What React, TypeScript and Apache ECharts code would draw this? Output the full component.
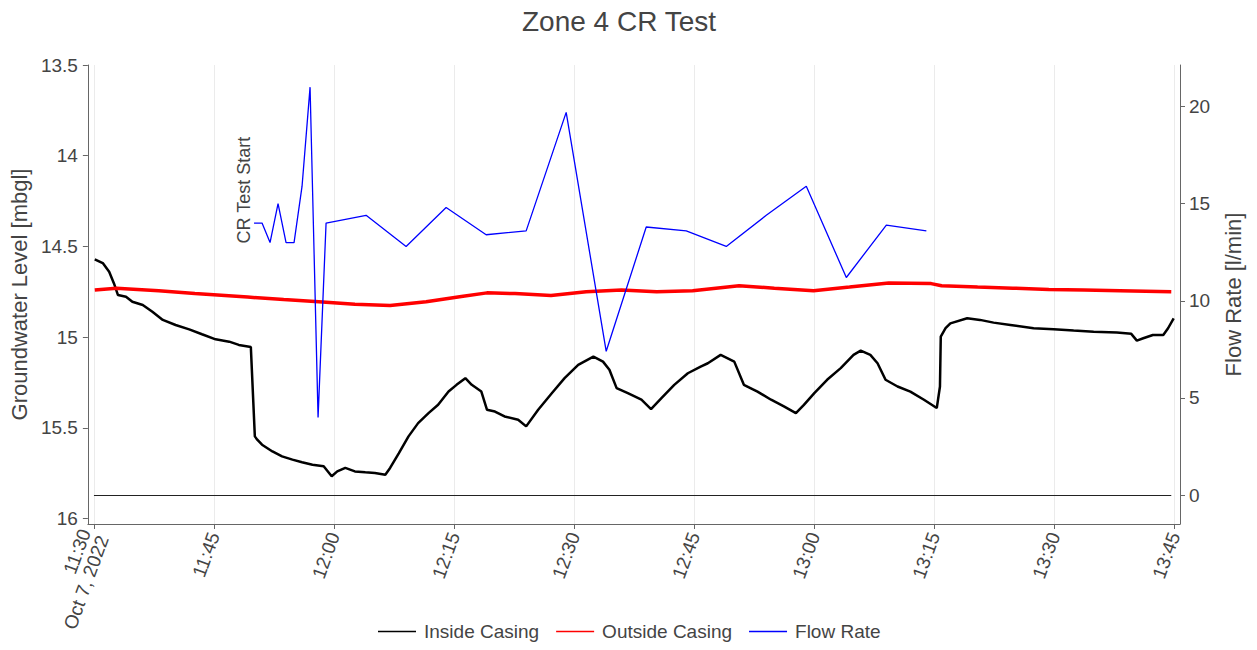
import React, { useEffect, useRef } from "react";
import * as echarts from "echarts";

// Elapsed minutes since 11:30 on Oct 7, 2022
const insideMin = [0.1, 1.1, 1.9, 2.5, 3.0, 4.0, 4.8, 6.1, 7.3, 8.6, 10.2, 11.9, 13.5, 15.2, 16.9, 18.1, 19.6, 20.1, 20.4, 21.0, 22.3, 23.5, 24.8, 26.0, 27.3, 28.7, 29.7, 30.4, 31.4, 32.6, 33.9, 35.1, 36.4, 37.0, 38.1, 39.3, 40.5, 41.8, 43.0, 44.3, 45.3, 46.4, 47.2, 48.4, 49.1, 50.1, 51.3, 53.0, 54.0, 55.5, 57.2, 58.8, 60.5, 62.4, 63.6, 64.4, 65.3, 66.7, 68.4, 69.6, 70.9, 72.5, 74.2, 75.8, 76.7, 78.3, 80.0, 81.2, 82.9, 84.6, 86.2, 87.7, 88.7, 90.0, 91.6, 93.3, 94.9, 95.8, 97.0, 97.9, 98.9, 100.4, 102.0, 103.7, 105.3, 105.7, 105.8, 106.4, 107.0, 109.1, 110.7, 112.4, 114.5, 117.4, 119.9, 122.4, 124.9, 127.8, 129.6, 130.3, 131.1, 132.3, 133.6, 134.2, 134.9];
const insideLevel = [14.571, 14.592, 14.640, 14.704, 14.768, 14.777, 14.805, 14.823, 14.860, 14.905, 14.933, 14.957, 14.984, 15.012, 15.025, 15.043, 15.054, 15.547, 15.565, 15.593, 15.630, 15.657, 15.675, 15.690, 15.703, 15.712, 15.767, 15.740, 15.721, 15.740, 15.745, 15.749, 15.758, 15.721, 15.639, 15.547, 15.474, 15.419, 15.373, 15.300, 15.263, 15.226, 15.263, 15.300, 15.400, 15.410, 15.437, 15.455, 15.492, 15.400, 15.309, 15.226, 15.153, 15.107, 15.135, 15.180, 15.281, 15.309, 15.345, 15.397, 15.336, 15.263, 15.199, 15.162, 15.144, 15.098, 15.135, 15.263, 15.300, 15.345, 15.382, 15.419, 15.373, 15.309, 15.235, 15.171, 15.098, 15.074, 15.098, 15.144, 15.235, 15.272, 15.300, 15.345, 15.391, 15.272, 14.997, 14.951, 14.924, 14.896, 14.905, 14.920, 14.933, 14.951, 14.957, 14.964, 14.970, 14.975, 14.982, 15.019, 15.006, 14.988, 14.988, 14.951, 14.896];

const outsideMin = [0.1, 2.8, 8.1, 12.6, 19.2, 23.7, 28.1, 32.6, 37.0, 41.5, 45.9, 49.1, 52.6, 57.1, 61.5, 65.9, 70.3, 74.8, 80.6, 85.0, 89.9, 94.4, 99.3, 104.6, 105.9, 110.4, 114.8, 119.3, 123.7, 128.2, 134.6];
const outsideLevel = [14.740, 14.730, 14.744, 14.760, 14.779, 14.793, 14.805, 14.819, 14.825, 14.805, 14.776, 14.756, 14.760, 14.770, 14.750, 14.740, 14.750, 14.744, 14.717, 14.730, 14.744, 14.724, 14.701, 14.705, 14.717, 14.724, 14.730, 14.737, 14.740, 14.744, 14.750];

const flowMin = [20, 21, 22, 23, 24, 25, 26, 27, 28, 29, 34, 39, 44, 49, 54, 59, 64, 69, 74, 79, 84, 89, 94, 99, 104];
const flowRate = [14.0, 14.0, 13.0, 15.0, 13.0, 13.0, 15.9, 21.0, 4.0, 14.0, 14.4, 12.8, 14.8, 13.4, 13.6, 19.7, 7.4, 13.8, 13.6, 12.8, 14.4, 15.9, 11.2, 13.9, 13.6];

const xTickMin = [0, 15, 30, 45, 60, 75, 90, 105, 120, 135];
const levelTicks = [13.5, 14, 14.5, 15, 15.5, 16];
const flowTicks = [0, 5, 10, 15, 20];
const zeroLineMin = [0, 134.6];
const annotationAt = [20, 15.7];

const START = new Date(2022, 9, 7, 11, 30, 0).getTime();
const toT = (m: number) => START + m * 60000;
const FONT = "'Liberation Sans', Arial, Helvetica, sans-serif";
const TXT = "#444";
const AXIS = "#666";

export default function App() {
  const ref = useRef<HTMLDivElement>(null);
  useEffect(() => {
    const chart = echarts.init(ref.current!, null, { renderer: "svg" });
    const pad = (n: number) => (n < 10 ? "0" + n : "" + n);
    const xTicks = xTickMin.map(toT);
    const option: any = {
      animation: false,
      backgroundColor: "#fff",
      textStyle: { fontFamily: FONT },
      title: {
        text: "Zone 4 CR Test",
        left: 517,
        top: 2,
        textStyle: { fontSize: 28, fontWeight: "normal", color: TXT, fontFamily: FONT },
      },
      legend: {
        bottom: 4,
        left: 373,
        icon: "rect",
        itemWidth: 38,
        itemHeight: 1.5,
        itemGap: 17,
        textStyle: { fontSize: 19, color: TXT, fontFamily: FONT, padding: [0, 0, 0, 3] },
        data: ["Inside Casing", "Outside Casing", "Flow Rate"],
      },
      grid: { left: 85, right: 77, top: 65, bottom: 126, containLabel: false },
      xAxis: {
        type: "value",
        min: toT(-0.76),
        max: toT(135.69),
        axisLine: { show: true, onZero: false, lineStyle: { color: AXIS, width: 1 } },
        axisTick: { show: true, length: 5, customValues: xTicks, lineStyle: { color: AXIS } },
        minorTick: { show: false },
        axisLabel: {
          customValues: xTicks,
          rotate: 70,
          margin: 9,
          fontSize: 19,
          color: TXT,
          fontFamily: FONT,
          formatter: (v: number) => {
            const d = new Date(v);
            const s = d.getHours() + ":" + pad(d.getMinutes());
            return Math.abs(v - START) < 1000 ? s + "\nOct 7, 2022" : s;
          },
        },
        splitLine: { show: true, lineStyle: { color: "#ebebeb", width: 1 } },
      },
      yAxis: [
        {
          type: "value",
          inverse: true,
          min: 13.5,
          max: 16.03,
          position: "left",
          name: "Groundwater Level [mbgl]",
          nameLocation: "middle",
          nameGap: 54,
          nameTextStyle: { fontSize: 22, color: TXT, fontFamily: FONT },
          axisLine: { show: true, onZero: false, lineStyle: { color: AXIS, width: 1 } },
          axisTick: { show: true, length: 5, customValues: levelTicks, lineStyle: { color: AXIS } },
          axisLabel: { customValues: levelTicks, fontSize: 19, color: TXT, fontFamily: FONT, margin: 10 },
          splitLine: { show: false },
        },
        {
          type: "value",
          min: -1.49,
          max: 22.14,
          position: "right",
          name: "Flow Rate [l/min]",
          nameLocation: "middle",
          nameGap: 42,
          nameTextStyle: { fontSize: 22, color: TXT, fontFamily: FONT },
          axisLine: { show: true, onZero: false, lineStyle: { color: AXIS, width: 1 } },
          axisTick: { show: true, length: 5, customValues: flowTicks, lineStyle: { color: AXIS } },
          axisLabel: { customValues: flowTicks, fontSize: 19, color: TXT, fontFamily: FONT, margin: 9 },
          splitLine: { show: false },
        },
      ],
      series: [
        {
          name: "Inside Casing",
          type: "line",
          yAxisIndex: 0,
          symbol: "none",
          lineStyle: { color: "#000", width: 2.5 },
          itemStyle: { color: "#000" },
          data: insideMin.map((m, i) => [toT(m), insideLevel[i]]),
        },
        {
          name: "Outside Casing",
          type: "line",
          yAxisIndex: 0,
          symbol: "none",
          lineStyle: { color: "#ff0000", width: 3.5 },
          itemStyle: { color: "#ff0000" },
          data: outsideMin.map((m, i) => [toT(m), outsideLevel[i]]),
        },
        {
          name: "Flow Rate",
          type: "line",
          yAxisIndex: 1,
          symbol: "none",
          lineStyle: { color: "#0000ff", width: 1.3 },
          itemStyle: { color: "#0000ff" },
          data: flowMin.map((m, i) => [toT(m), flowRate[i]]),
          markLine: {
            silent: true,
            symbol: "none",
            label: { show: false },
            lineStyle: { color: "#222", width: 1, type: "solid" },
            data: [[{ coord: [toT(zeroLineMin[0]), 0] }, { coord: [toT(zeroLineMin[1]), 0] }]],
          },
        },
      ],
    };
    chart.setOption(option);
    const p = chart.convertToPixel({ xAxisIndex: 0, yAxisIndex: 1 } as any, [toT(annotationAt[0]), annotationAt[1]]) as number[];
    chart.setOption({
      graphic: [
        {
          type: "text",
          x: p[0] - 10,
          y: p[1],
          rotation: Math.PI / 2,
          style: {
            text: "CR Test Start",
            font: `18px ${FONT}`,
            fill: TXT,
            align: "center",
            verticalAlign: "middle",
          },
        },
      ],
    });
    return () => chart.dispose();
  }, []);
  return <div ref={ref} style={{ position: "fixed", left: 0, top: 0, width: 1257, height: 650 }} />;
}
